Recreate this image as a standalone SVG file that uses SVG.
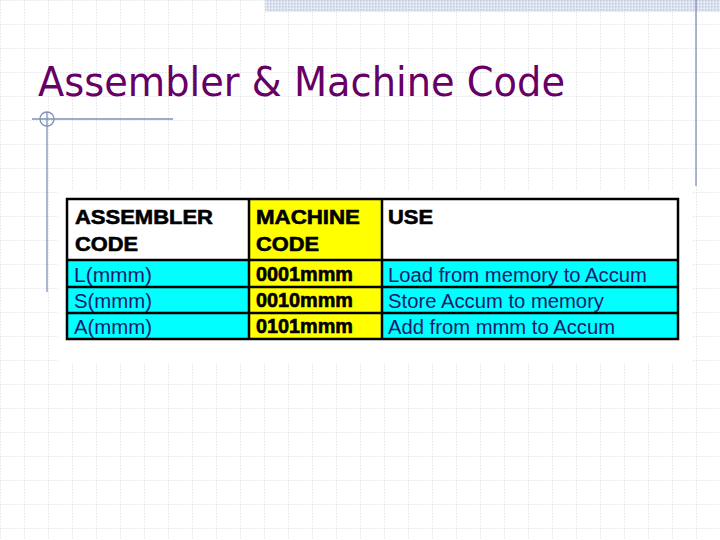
<svg xmlns="http://www.w3.org/2000/svg" width="720" height="540" viewBox="0 0 720 540">
<defs>
<pattern id="grid" width="24" height="24" patternUnits="userSpaceOnUse">
<path d="M0 0H24M0 0V24" fill="none" stroke="#c8ccd8" stroke-width="1" stroke-dasharray="1.5 1.5"/>
</pattern>
<pattern id="dots" width="3" height="3" patternUnits="userSpaceOnUse">
<rect width="3" height="3" fill="#e4e9f4"/><rect width="1.5" height="1.5" fill="#b8c6e0"/>
</pattern>
</defs>
<style>
.b{font-family:"Liberation Sans",Arial,sans-serif;font-weight:bold;font-size:20px;fill:#000;stroke:#000;stroke-width:0.6}
.n{font-family:"Liberation Sans",Arial,sans-serif;font-size:20px;fill:#1a1a6a}
.c{stroke:#000;stroke-width:2.5}
</style>
<rect width="720" height="540" fill="#fff"/>
<rect width="720" height="540" fill="url(#grid)"/>
<rect x="265" y="0" width="455" height="12" fill="url(#dots)"/>
<g id="decor" stroke="#7f8fb8" stroke-width="1.3" fill="none">
<line x1="696" y1="0" x2="696" y2="186"/>
<line x1="47" y1="112" x2="47" y2="292"/>
<line x1="32" y1="119" x2="173" y2="119"/>
<circle cx="47" cy="119" r="7"/>
</g>
<text id="title" x="38" y="96" font-family="DejaVu Sans,Verdana,sans-serif" font-size="41" fill="#660066" textLength="527" lengthAdjust="spacingAndGlyphs">Assembler &amp; Machine Code</text>
<rect x="58" y="190" width="634" height="172" fill="#fff"/>
<g id="table">
<rect x="67" y="199" width="182" height="61" fill="#fff"/>
<rect x="249" y="199" width="133" height="140" fill="#ffff00"/>
<rect x="382" y="199" width="296" height="61" fill="#fff"/>
<rect x="67" y="260" width="182" height="79" fill="#00ffff"/>
<rect x="382" y="260" width="296" height="79" fill="#00ffff"/>
<g class="c">
<rect x="67" y="199" width="611" height="140" fill="none"/>
<line x1="249" y1="199" x2="249" y2="339"/>
<line x1="382" y1="199" x2="382" y2="339"/>
<line x1="67" y1="260" x2="678" y2="260"/>
<line x1="67" y1="287" x2="678" y2="287"/>
<line x1="67" y1="313" x2="678" y2="313"/>
</g>
<text class="b" x="75" y="224" textLength="138" lengthAdjust="spacingAndGlyphs">ASSEMBLER</text>
<text class="b" x="75" y="251" textLength="63" lengthAdjust="spacingAndGlyphs">CODE</text>
<text class="b" x="256" y="224" textLength="104" lengthAdjust="spacingAndGlyphs">MACHINE</text>
<text class="b" x="256" y="251" textLength="63" lengthAdjust="spacingAndGlyphs">CODE</text>
<text class="b" x="388" y="224" textLength="45" lengthAdjust="spacingAndGlyphs">USE</text>
<text class="n" x="74" y="282" textLength="78" lengthAdjust="spacingAndGlyphs">L(mmm)</text>
<text class="n" x="74" y="308" textLength="78" lengthAdjust="spacingAndGlyphs">S(mmm)</text>
<text class="n" x="74" y="334" textLength="78" lengthAdjust="spacingAndGlyphs">A(mmm)</text>
<text class="b" x="256" y="281" textLength="97" lengthAdjust="spacingAndGlyphs">0001mmm</text>
<text class="b" x="256" y="307" textLength="97" lengthAdjust="spacingAndGlyphs">0010mmm</text>
<text class="b" x="256" y="333" textLength="97" lengthAdjust="spacingAndGlyphs">0101mmm</text>
<text class="n" x="388" y="282" textLength="259" lengthAdjust="spacingAndGlyphs">Load from memory to Accum</text>
<text class="n" x="388" y="308" textLength="216" lengthAdjust="spacingAndGlyphs">Store Accum to memory</text>
<text class="n" x="388" y="334" textLength="227" lengthAdjust="spacingAndGlyphs">Add from mmm to Accum</text>
</g>
</svg>
